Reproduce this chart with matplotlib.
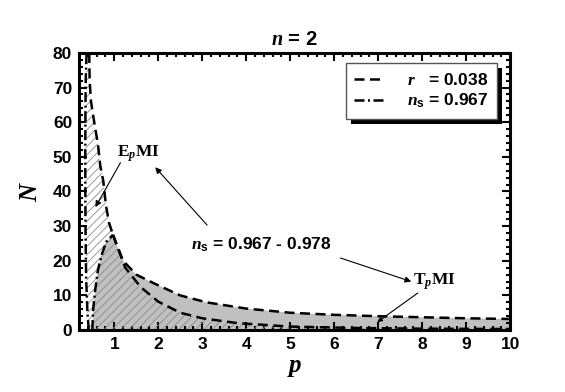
import numpy as np
import matplotlib
matplotlib.use("Agg")
import matplotlib.pyplot as plt
from matplotlib.ticker import MultipleLocator
from matplotlib.patches import Rectangle

plt.rcParams['font.family'] = ['Liberation Sans', 'DejaVu Sans']
plt.rcParams['font.weight'] = 'bold'
plt.rcParams['mathtext.fontset'] = 'custom'
plt.rcParams['mathtext.rm'] = 'Liberation Sans:bold'
plt.rcParams['mathtext.bf'] = 'Liberation Sans:bold'
plt.rcParams['mathtext.it'] = 'Liberation Serif:bold:italic'
plt.rcParams['hatch.linewidth'] = 0.6

# ---- data ----
# EpMI: left boundary, n_s = 0.967 (dash-dot, nearly vertical)
ep_ns_p = [0.42, 0.39, 0.36, 0.345, 0.34, 0.345, 0.35, 0.37]
ep_ns_N = [0.0, 5.0, 15.0, 30.0, 50.0, 65.0, 72.0, 80.0]
# EpMI: r = 0.038 boundary (dashed, steep branch)
ep_r_p = [0.43, 0.44, 0.47, 0.55, 0.63, 0.68, 0.75, 0.81, 0.88, 0.97]
ep_r_N = [80.0, 72.0, 66.0, 59.5, 53.5, 47.5, 43.0, 36.0, 31.0, 27.5]
# lower dashed branch (p > 1)
low_p = [0.97, 1.07, 1.25, 1.6, 2.0, 2.5, 3.0, 3.8, 5.0, 6.5, 8.0, 10.0]
low_N = [27.5, 24.0, 18.0, 12.4, 8.2, 5.0, 3.4, 2.0, 1.0, 0.6, 0.4, 0.3]
# TpMI: n_s = 0.967 boundary (dash-dot, rising)
tp_ns_p = [0.50, 0.52, 0.57, 0.63, 0.72, 0.82, 0.97]
tp_ns_N = [0.0, 6.0, 12.0, 17.5, 22.0, 25.5, 27.5]
# TpMI: r = 0.038 boundary (upper dashed)
up_p = [0.97, 1.2, 1.5, 1.9, 2.5, 3.1, 4.0, 5.0, 6.0, 7.0, 8.0, 9.0, 10.0]
up_N = [27.5, 20.0, 16.0, 13.5, 10.0, 8.0, 6.2, 5.0, 4.4, 4.0, 3.7, 3.4, 3.2]

xticks = [1, 2, 3, 4, 5, 6, 7, 8, 9, 10]
yticks = [0, 10, 20, 30, 40, 50, 60, 70, 80]

fig = plt.figure(figsize=(5.65, 3.92), dpi=100)
ax = fig.add_axes([0.140, 0.158, 0.763, 0.707])

# grey TpMI region
gx = np.concatenate([tp_ns_p, up_p, [up_p[-1]]])
gy = np.concatenate([tp_ns_N, up_N, [0.0]])
ax.fill(gx, gy, facecolor='#c0c0c0', edgecolor='none', zorder=1)

# hatched EpMI region
hx = np.concatenate([ep_ns_p, ep_r_p, low_p[1:], [low_p[-1]]])
hy = np.concatenate([ep_ns_N, ep_r_N, low_N[1:], [0.0]])
ax.fill(hx, hy, facecolor='none', edgecolor='#8a8a8a', linewidth=0, hatch='////', zorder=2)

dash = (4.0, 2.2)
dashdot = (4.0, 1.4, 0.8, 1.4)
lw = 1.8
ax.plot(ep_r_p, ep_r_N, color='k', lw=lw, dashes=dash, zorder=3, label=r'$r$   = 0.038')
ax.plot(ep_ns_p, ep_ns_N, color='k', lw=lw, dashes=dashdot, zorder=3, label=r'$n_{\rm s}$ = 0.967')
ax.plot(low_p, low_N, color='k', lw=lw, dashes=dash, zorder=3)
ax.plot(up_p, up_N, color='k', lw=lw, dashes=dash, zorder=3)
ax.plot(tp_ns_p, tp_ns_N, color='k', lw=lw, dashes=dashdot, zorder=3)

ax.set_xlim(0.2, 10)
ax.set_ylim(0, 80)
ax.set_xticks(xticks)
ax.set_yticks(yticks)
ax.xaxis.set_minor_locator(MultipleLocator(0.2))
ax.yaxis.set_minor_locator(MultipleLocator(2))
ax.tick_params(which='both', direction='in', top=True, right=True, width=1.5)
ax.tick_params(which='major', length=6, labelsize=12.5, pad=5)
ax.tick_params(which='minor', length=3)
for s in ax.spines.values():
    s.set_linewidth(2.2)
for lab in ax.get_xticklabels() + ax.get_yticklabels():
    lab.set_fontweight('bold')

ax.set_title(r'$n$ = 2', fontsize=14.5, fontweight='bold', pad=6)
ax.set_xlabel(r'$p$', fontsize=18, labelpad=2)
ax.set_ylabel(r'$N$', fontsize=18, labelpad=8)

arrow = dict(arrowstyle='-|>', color='k', lw=0.8, mutation_scale=9, shrinkA=0, shrinkB=0)
# annotations
ax.text(1.55, 51.0, r'E$_{p}$MI', fontsize=12.5, family='Liberation Serif', fontweight='bold',
        ha='center', va='center', zorder=5)
ax.annotate('', xy=(0.57, 35.5), xytext=(1.14, 48.3), arrowprops=arrow)
ax.text(4.35, 24.5, r'$n_{\rm s}$ = 0.967 - 0.978', fontsize=12.5, fontweight='bold',
        ha='center', va='center', zorder=5)
ax.annotate('', xy=(1.93, 47.0), xytext=(3.11, 30.3), arrowprops=arrow)
ax.annotate('', xy=(7.75, 14.0), xytext=(6.14, 20.8), arrowprops=arrow)
ax.text(8.27, 13.9, r'T$_{p}$MI', fontsize=12.5, family='Liberation Serif', fontweight='bold',
        ha='center', va='center', zorder=5)
ax.annotate('', xy=(6.98, 2.3), xytext=(7.9, 10.7),
            arrowprops=dict(arrow, mutation_scale=7))

leg = ax.legend(loc='upper right', bbox_to_anchor=(0.97, 0.964), frameon=True, fancybox=False,
                fontsize=12.5, handlelength=1.75, borderpad=0.5, labelspacing=0.25,
                handletextpad=1.3, borderaxespad=0, framealpha=1)
leg.get_frame().set_edgecolor('#555555')
leg.get_frame().set_linewidth(1.0)
leg.set_zorder(10)

fig.canvas.draw()
bb = leg.get_window_extent().transformed(ax.transAxes.inverted())
dx = 5 / (ax.bbox.width)
dy = 5 / (ax.bbox.height)
shadow = Rectangle((bb.x0 + dx, bb.y0 - dy), bb.width, bb.height, transform=ax.transAxes,
                   facecolor='k', edgecolor='none', zorder=9, clip_on=False)
ax.add_artist(shadow)

fig.savefig('out.png', dpi=100)
